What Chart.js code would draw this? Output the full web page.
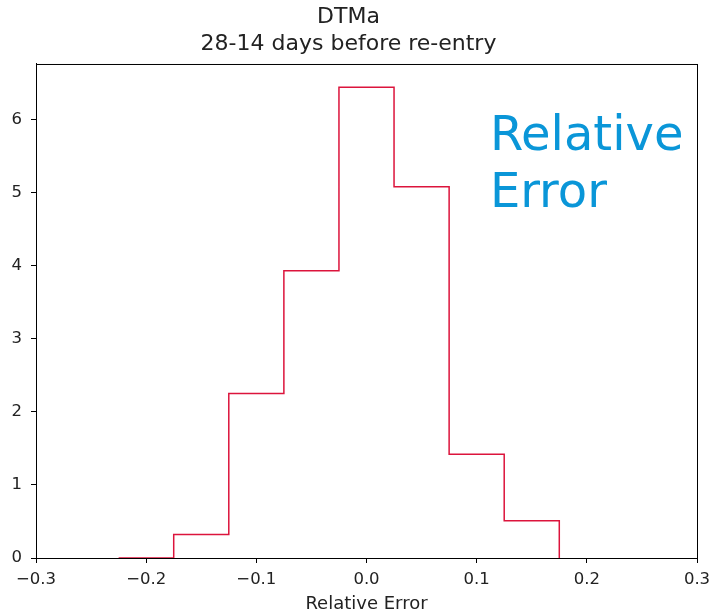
<!DOCTYPE html>
<html>
<head>
<meta charset="utf-8">
<script src="https://cdn.jsdelivr.net/npm/chart.js@4/dist/chart.umd.min.js"></script>
<style>
  body { margin: 0; background: #fff; }
  #wrap { width: 713px; height: 615px; }
</style>
</head>
<body>
<div id="wrap"><canvas id="myChart"></canvas></div>
<script>
// histogram bins (edges) and density per bin
const binEdges = [-0.225, -0.175, -0.125, -0.075, -0.025, 0.025, 0.075, 0.125, 0.175];
const density = [0, 0.32, 2.25, 3.93, 6.44, 5.08, 1.42, 0.51];
const xTicks = [-0.3, -0.2, -0.1, 0.0, 0.1, 0.2, 0.3];
const xTickLabels = ["\u22120.3", "\u22120.2", "\u22120.1", "0.0", "0.1", "0.2", "0.3"];
const yTicks = [0, 1, 2, 3, 4, 5, 6];

// outline points for a step histogram
const puntos = density.map((v, i) => ({ x: binEdges[i], y: v }));
puntos.push({ x: binEdges[binEdges.length - 1], y: 0 });

const fuente = "'DejaVu Sans', sans-serif";

const marco = {
    id: 'marco',
    afterDraw(chart) {
        const { ctx, chartArea: a, scales } = chart;
        ctx.save();
        ctx.strokeStyle = '#000';
        ctx.lineWidth = 1;
        ctx.strokeRect(a.left + 0.5, a.top + 0.5, a.right - a.left, a.bottom - a.top);
        // big annotation text
        ctx.fillStyle = '#0a96d8';
        ctx.font = "48px " + fuente;
        ctx.textBaseline = 'alphabetic';
        ctx.textAlign = 'left';
        const x = scales.x.getPixelForValue(0.112);
        ctx.fillText('Relative', x, scales.y.getPixelForValue(5.58));
        ctx.fillText('Error', x, scales.y.getPixelForValue(4.8));
        ctx.restore();
    }
};

const ctx = document.getElementById('myChart').getContext('2d');
const myChart = new Chart(ctx, {
    type: 'scatter',
    data: {
        datasets: [{
            data: puntos,
            showLine: true,
            stepped: 'before',
            borderColor: '#dc143c',
            borderWidth: 1.5,
            pointRadius: 0,
            fill: false
        }]
    },
    options: {
        responsive: true,
        maintainAspectRatio: false,
        animation: false,
        layout: { padding: { left: 0, right: 16, top: 0, bottom: 0 } },
        plugins: {
            legend: { display: false },
            tooltip: { enabled: false },
            title: {
                display: true,
                text: ['DTMa', '28-14 days before re-entry'],
                color: '#222',
                font: { family: fuente, size: 22, weight: 'normal', lineHeight: 1.227 },
                padding: { top: 4, bottom: 6 }
            }
        },
        scales: {
            x: {
                type: 'linear',
                min: -0.3,
                max: 0.3,
                afterBuildTicks: s => { s.ticks = xTicks.map(v => ({ value: v })); },
                afterFit: s => { s.height = 57; s.paddingLeft = 0; s.paddingRight = 0; },
                ticks: {
                    color: '#222',
                    font: { family: fuente, size: 16.5 },
                    padding: 7,
                    maxRotation: 0,
                    callback: (v, i) => xTickLabels[i]
                },
                grid: { drawOnChartArea: false, drawTicks: true, tickLength: 5, color: '#000' },
                border: { display: true, color: '#000' },
                title: {
                    display: true,
                    text: 'Relative Error',
                    color: '#222',
                    font: { family: fuente, size: 18 },
                    padding: { top: 0, bottom: 0 }
                }
            },
            y: {
                type: 'linear',
                min: 0,
                max: 6.76,
                afterBuildTicks: s => { s.ticks = yTicks.map(v => ({ value: v })); },
                afterFit: s => { s.width = 36; },
                ticks: {
                    color: '#222',
                    font: { family: fuente, size: 16.5 },
                    padding: 9
                },
                grid: { drawOnChartArea: false, drawTicks: true, tickLength: 5, color: '#000' },
                border: { display: true, color: '#000' }
            }
        }
    },
    plugins: [marco]
});
</script>
</body>
</html>
